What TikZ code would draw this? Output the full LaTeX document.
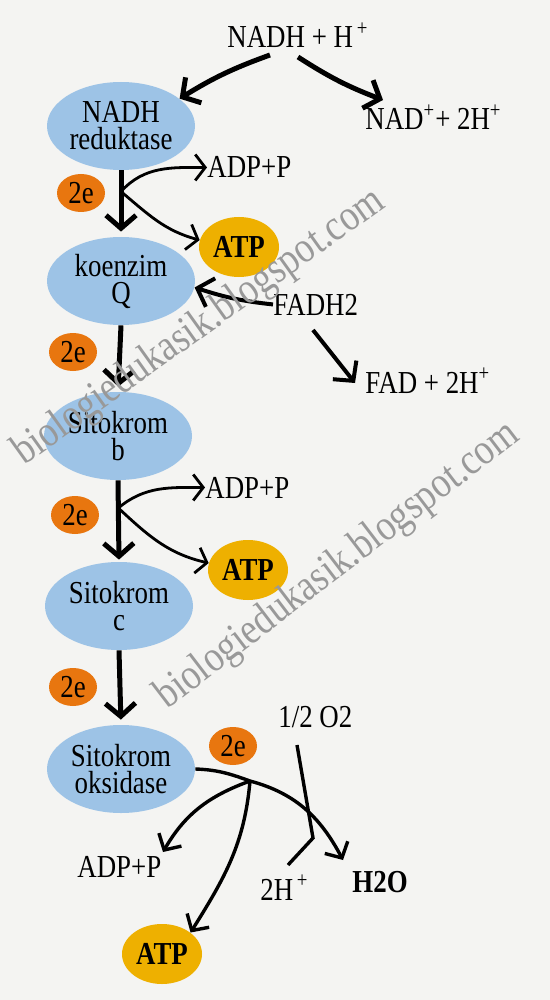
\documentclass[tikz,border=0pt]{standalone}
\usepackage{fontspec}
\setmainfont{Liberation Serif}[FakeStretch=0.84]
\usetikzlibrary{shapes.geometric,arrows.meta,calc}
\definecolor{bgc}{HTML}{F4F4F2}
\definecolor{enzc}{HTML}{9DC3E6}
\definecolor{ec}{HTML}{E8760F}
\definecolor{atpc}{HTML}{EEB000}
\begin{document}
\begin{tikzpicture}[x=0.5pt,y=0.5pt,
  txt/.style={font=\fontsize{16}{13.5}\selectfont},
  lbl/.style={txt,inner sep=0pt,anchor=base west},
  enz/.style={txt,ellipse,fill=enzc,minimum width=74pt,minimum height=44pt,inner sep=0pt,align=center},
  elec/.style={txt,ellipse,fill=ec,minimum width=24pt,minimum height=19pt,inner sep=0pt},
  atp/.style={txt,font=\fontsize{16}{13.5}\selectfont\bfseries,ellipse,fill=atpc,minimum width=40pt,minimum height=30pt,inner sep=0pt},
  thk/.style={line width=2.5pt,-{Straight Barb[length=6.5pt,width=15pt]}},
  med/.style={line width=2pt,-{Straight Barb[length=7pt,width=15pt]}},
  thn/.style={line width=1.4pt,-{Straight Barb[length=5pt,width=13pt]}},
  okl/.style={line width=1.7pt,-{Straight Barb[length=6pt,width=13pt]}},
  wm/.style={font=\fontsize{22}{22}\selectfont,text=black!40,inner sep=0pt,anchor=base west}
]
\fill[bgc] (0,0) rectangle (550,-1000);
\useasboundingbox (0,0) rectangle (550,-1000);

% enzyme ellipses
\node[enz] (nr) at (121,-126) {NADH\\reduktase};
\node[enz] (kq) at (121,-281) {koenzim\\Q};
\node[enz] (sb) at (118,-436) {Sitokrom\\b};
\node[enz] (sc) at (119,-606) {Sitokrom\\c};
\node[enz] (so) at (121,-769) {Sitokrom\\oksidase};

% electrons
\node[elec] (e1) at (81,-193) {2e};
\node[elec] (e2) at (73,-352) {2e};
\node[elec] (e3) at (75,-515) {2e};
\node[elec] (e4) at (73,-687) {2e};
\node[elec] (e5) at (233,-746) {2e};

% ATP
\node[atp] (a1) at (239,-247) {ATP};
\node[atp] (a2) at (248,-570) {ATP};
\node[atp] (a3) at (162,-954) {ATP};

% labels
\node[lbl] (nadh) at (227,-48) {NADH + H\textsuperscript{\,+}};
\node[lbl] (nad) at (365,-130) {NAD\textsuperscript{+}+ 2H\textsuperscript{+}};
\node[lbl] (adp1) at (207,-178) {ADP+P};
\node[lbl] (fadh) at (273,-315) {FADH2};
\node[lbl] (fad) at (365,-393) {FAD + 2H\textsuperscript{+}};
\node[lbl] (adp2) at (205,-498) {ADP+P};
\node[lbl] (o2) at (278,-727) {1/2 O2};
\node[lbl] (adp3) at (77,-877) {ADP+P};
\node[lbl] (h2) at (260,-900) {2H\textsuperscript{\,+}};
\node[lbl,font=\fontsize{16}{13.5}\selectfont\bfseries] (h2o) at (352,-892) {H2O};

% top arrows
\draw[thk] ($(nadh.base west)+(43,-7)$) to[bend right=6] (nr.25);
\draw[thk] ($(nadh.base west)+(71,-9)$) to[bend right=6] ($(nad.base west)+(18,30)$);

% chain
\draw[thk,shorten >=2.5pt] (nr.south) -- (kq.north);
\draw[thk,shorten >=2.5pt] (kq.south) -- (sb.north);
\draw[thk,shorten >=1pt] (sb.south) -- (sc.north);
\draw[thk,shorten >=2.5pt] (sc.south) -- (so.north);

% branch 1
\coordinate (b1) at ($(nr.south)!0.32!(kq.north)$);
\draw[thn] (b1) to[out=48,in=180] (adp1.west);
\draw[thn] (b1) to[out=-40,in=165] (a1.170);

% FADH2
\draw[med] (fadh.west) to[out=174,in=-18] (kq.-5);
\draw[med] ($(fadh.base west)+(40,-15)$) -- ($(fad.base west)+(-10,10)$);

% branch 2
\coordinate (b2) at ($(sb.south)!0.34!(sc.north)$);
\draw[thn] (b2) to[out=40,in=180] (adp2.west);
\draw[thn] (b2) to[out=-43,in=167] (a2.170);

% oksidase
\coordinate (c3) at (250,-781);
\coordinate (jn) at (313,-838);
\draw[okl] (so.east) to[out=-2,in=160] (c3) to[out=-15,in=118] ($(h2o.base west)+(-9,32)$);
\draw[okl] (c3) to[out=200,in=60] ($(adp3.base west)+(86,25)$);
\draw[okl] (c3) to[out=-95,in=58] (a3.north east);
\draw[line width=1.7pt] ($(o2.base west)+(19,-18)$) -- (jn) -- ($(h2.base west)+(28,35)$);

% watermarks
\node[wm,rotate=35.6] (w1) at (24,-466) {biologiedukasik.blogspot.com};
\node[wm,rotate=37.4] (w2) at (167,-710) {biologiedukasik.blogspot.com};
\end{tikzpicture}
\end{document}
